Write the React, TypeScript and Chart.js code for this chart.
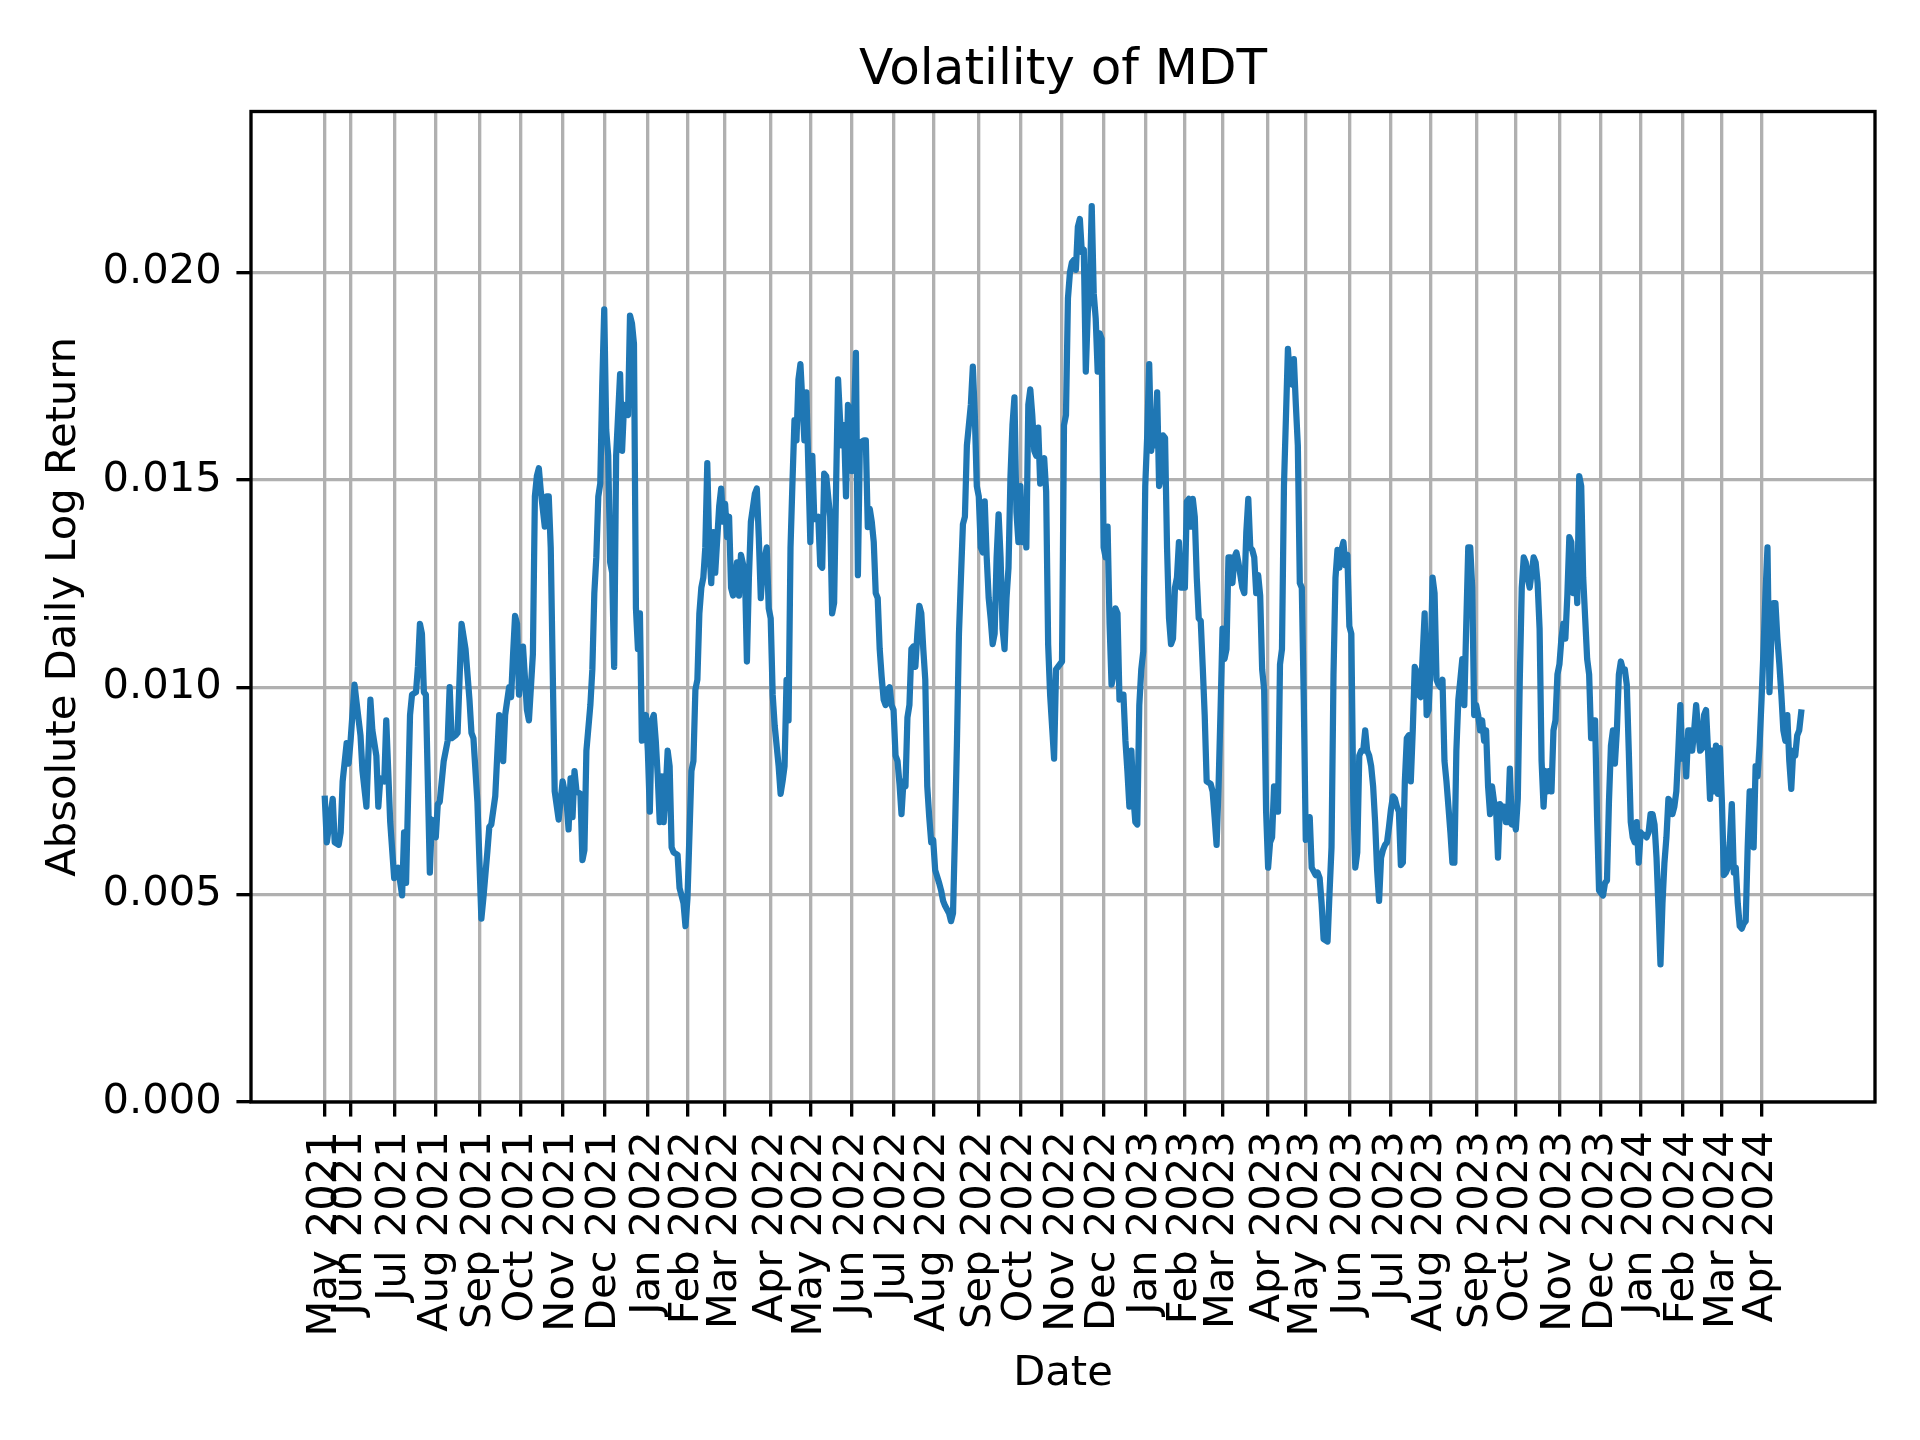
import { useEffect, useRef } from "react";
import { Chart, registerables } from "chart.js";

Chart.register(...registerables);

const TITLE = "Volatility of MDT";
const X_LABEL = "Date";
const Y_LABEL = "Absolute Daily Log Return";

// The x axis is the trading-day number of the series (0 = 2021-05-12, 745 = 2024-04-29).
// Each pair: [trading-day number, absolute daily log return (rolling)]
const obs2021: [number, number][] = [
  [0, 0.00731], [1, 0.00626], [4, 0.00731], [5, 0.00626], [7, 0.0062], [8, 0.0065], [9, 0.00773],
  [11, 0.00865], [12, 0.00816], [13, 0.00871], [15, 0.01006], [16, 0.00964], [18, 0.00884],
  [19, 0.00798], [21, 0.00712], [23, 0.0097], [24, 0.00896], [26, 0.00835], [27, 0.00712],
  [28, 0.0078], [30, 0.00773], [31, 0.0092], [33, 0.00675], [35, 0.0054], [37, 0.00565],
  [39, 0.00498], [40, 0.0065], [41, 0.00528], [43, 0.00933], [44, 0.00982], [46, 0.00988],
  [47, 0.0105], [48, 0.01153], [49, 0.01129], [50, 0.00988], [51, 0.00982], [53, 0.00553],
  [54, 0.00681], [56, 0.00638], [57, 0.00718], [58, 0.00724], [60, 0.00822], [62, 0.00871],
  [63, 0.01], [64, 0.00877], [66, 0.00884], [67, 0.0089], [69, 0.01153], [71, 0.01092],
  [73, 0.0097], [74, 0.0089], [75, 0.00877], [77, 0.00724], [79, 0.00442], [80, 0.00491],
  [82, 0.00602], [83, 0.00663], [84, 0.00669], [86, 0.00737], [87, 0.00835], [88, 0.00933],
  [90, 0.00822], [91, 0.00933], [93, 0.01], [94, 0.00976], [95, 0.0108], [96, 0.01172],
  [97, 0.01153], [98, 0.00982], [100, 0.01098], [102, 0.00945], [103, 0.0092], [105, 0.0108],
  [106, 0.0146], [107, 0.01509], [108, 0.01528], [109, 0.01472], [111, 0.01387], [112, 0.0146],
  [113, 0.0146], [114, 0.01337], [116, 0.00749], [118, 0.00681], [120, 0.00773], [122, 0.00724],
  [123, 0.00657], [124, 0.0078], [125, 0.00687], [126, 0.00798], [127, 0.00749], [129, 0.00743],
  [130, 0.00583], [131, 0.00607], [132, 0.00847], [134, 0.00957], [135, 0.01043], [136, 0.01227],
  [137, 0.01313], [138, 0.0146], [139, 0.01491], [140, 0.0173], [141, 0.01911], [142, 0.0162],
  [143, 0.01558], [144, 0.01301], [145, 0.01276], [146, 0.01049], [147, 0.01558], [149, 0.01755],
  [150, 0.0157], [151, 0.01681], [153, 0.01656], [154, 0.01896], [155, 0.01877], [156, 0.01828],
  [157, 0.0119], [158, 0.01092], [159, 0.01178], [160, 0.00871], [162, 0.00933],
];

const obs2022: [number, number][] = [
  [163, 0.00847], [164, 0.007], [165, 0.0092], [166, 0.00933], [167, 0.00871], [168, 0.00785],
  [169, 0.00675], [170, 0.00785], [171, 0.00675], [172, 0.00749], [173, 0.00847], [174, 0.0081],
  [175, 0.00614], [176, 0.00602], [178, 0.00596], [179, 0.00516], [180, 0.00498], [181, 0.00479],
  [182, 0.00424], [183, 0.00491], [185, 0.00798], [186, 0.00822], [187, 0.00994], [188, 0.01018],
  [189, 0.01178], [190, 0.0124], [191, 0.01264], [192, 0.01337], [193, 0.0154], [194, 0.01337],
  [195, 0.01251], [196, 0.01374], [197, 0.01276], [199, 0.01436], [200, 0.01479], [201, 0.01399],
  [202, 0.01442], [203, 0.01362], [204, 0.01411], [205, 0.0124], [206, 0.01221], [208, 0.01301],
  [209, 0.01221], [210, 0.01319], [212, 0.01276], [213, 0.01062], [214, 0.01264], [215, 0.01399],
  [217, 0.01466], [218, 0.01479], [219, 0.01362], [220, 0.01215], [221, 0.01288], [223, 0.01337],
  [224, 0.0119], [225, 0.01166], [226, 0.00982], [227, 0.00908], [229, 0.0081], [230, 0.00743],
  [231, 0.00773], [232, 0.0081], [233, 0.01018], [234, 0.0092], [235, 0.01337], [236, 0.01497],
  [237, 0.01644], [238, 0.01595], [239, 0.01742], [240, 0.01779], [242, 0.01595], [243, 0.01711],
  [245, 0.0135], [246, 0.01558], [247, 0.01405], [249, 0.01411], [250, 0.01294], [251, 0.01288],
  [252, 0.01515], [253, 0.01509], [255, 0.01411], [256, 0.01178], [257, 0.01203], [258, 0.01485],
  [259, 0.01742], [260, 0.01644], [261, 0.01583], [262, 0.01632], [263, 0.0146], [264, 0.01681],
  [265, 0.01656], [266, 0.01521], [267, 0.01644], [268, 0.01806], [269, 0.0127], [270, 0.01589],
  [272, 0.01595], [273, 0.01595], [274, 0.01386], [275, 0.0143], [276, 0.01399], [277, 0.0135],
  [278, 0.01227], [279, 0.01215], [280, 0.01092], [281, 0.01025], [282, 0.0097], [283, 0.00957],
  [284, 0.00994], [285, 0.01], [286, 0.00957], [287, 0.00945], [288, 0.00835], [289, 0.00822],
  [290, 0.00767], [291, 0.00694], [292, 0.00773], [293, 0.00761], [294, 0.00927], [295, 0.00957],
  [296, 0.01092], [297, 0.01098], [298, 0.01049], [299, 0.01129], [300, 0.01196], [301, 0.01178],
  [302, 0.01092], [303, 0.01018], [304, 0.00761], [305, 0.00687], [306, 0.00626], [307, 0.00632],
  [308, 0.00559], [310, 0.00528], [311, 0.0051], [312, 0.00485], [313, 0.00473], [315, 0.00455],
  [316, 0.00436], [317, 0.00455], [318, 0.0065], [319, 0.00871], [320, 0.01129], [321, 0.01264],
  [322, 0.01393], [323, 0.01411], [324, 0.01583], [325, 0.01632], [326, 0.01681], [327, 0.01773],
  [328, 0.01656], [329, 0.01485], [330, 0.0146], [331, 0.01337], [332, 0.01325], [333, 0.01448],
  [334, 0.01313], [335, 0.01215], [336, 0.01166], [337, 0.01104], [338, 0.01129], [339, 0.01313],
  [340, 0.01417], [341, 0.01313], [342, 0.01141], [343, 0.01092], [344, 0.01215], [345, 0.01288],
  [346, 0.01509], [347, 0.01632], [348, 0.01699], [349, 0.01423], [350, 0.0135], [351, 0.01485],
  [352, 0.0135], [353, 0.01411], [354, 0.01337], [355, 0.01681], [356, 0.01718], [357, 0.01656],
  [358, 0.0157], [359, 0.01558], [360, 0.01626], [361, 0.01491], [362, 0.01546], [363, 0.01552],
  [364, 0.01472], [365, 0.01104], [366, 0.00982], [368, 0.00828], [369, 0.01043], [372, 0.01062],
  [373, 0.01632], [374, 0.01656], [375, 0.01938], [376, 0.02], [377, 0.02024], [378, 0.0203],
  [379, 0.02006], [380, 0.0211], [381, 0.02129], [382, 0.02049], [383, 0.02055], [384, 0.01761],
  [385, 0.01902], [386, 0.01963], [387, 0.0216], [388, 0.0195], [389, 0.01889], [390, 0.01761],
  [391, 0.01853], [392, 0.0184], [393, 0.01337], [394, 0.01313], [395, 0.01387], [396, 0.01153],
  [397, 0.01006], [398, 0.01031], [399, 0.0119], [400, 0.01178], [401, 0.0097], [402, 0.00982],
  [403, 0.00982], [404, 0.00871], [405, 0.00798], [406, 0.00712], [407, 0.00847], [408, 0.00737],
  [409, 0.00675], [410, 0.00669], [411, 0.00957], [412, 0.01043], [413, 0.01086],
];

const obs2023: [number, number][] = [
  [414, 0.01485], [415, 0.01607], [416, 0.01779], [417, 0.0157], [418, 0.0162], [419, 0.01583],
  [420, 0.01711], [421, 0.01485], [422, 0.01509], [423, 0.01607], [424, 0.01601], [425, 0.01337],
  [426, 0.01166], [427, 0.01104], [428, 0.01117], [429, 0.0124], [430, 0.01264], [431, 0.0135],
  [432, 0.0124], [433, 0.0124], [434, 0.0124], [435, 0.01448], [436, 0.01454], [437, 0.01387],
  [438, 0.01454], [439, 0.01411], [440, 0.01264], [441, 0.01166], [442, 0.0116], [443, 0.0105],
  [444, 0.00933], [445, 0.00773], [447, 0.00767], [448, 0.00749], [449, 0.00687], [450, 0.0062],
  [451, 0.00761], [452, 0.00945], [453, 0.01141], [454, 0.01068], [455, 0.01092], [456, 0.01313],
  [457, 0.01313], [458, 0.01251], [459, 0.01313], [460, 0.01325], [461, 0.01301], [463, 0.0124],
  [464, 0.01227], [465, 0.01374], [466, 0.01454], [467, 0.01337], [468, 0.01331], [469, 0.01313],
  [470, 0.01227], [471, 0.0127], [472, 0.01221], [473, 0.01043], [474, 0.00994], [475, 0.007],
  [476, 0.00565], [477, 0.00626], [478, 0.00638], [479, 0.00761], [480, 0.00749], [481, 0.007],
  [482, 0.01055], [483, 0.01092], [484, 0.01485], [486, 0.01816], [487, 0.01742], [488, 0.0173],
  [489, 0.01791], [490, 0.01681], [491, 0.01583], [492, 0.01251], [493, 0.0124], [494, 0.0097],
  [495, 0.00632], [496, 0.00663], [497, 0.00687], [498, 0.00565], [500, 0.00547], [501, 0.00553],
  [502, 0.0054], [503, 0.00479], [504, 0.00393], [506, 0.00387], [507, 0.00504], [508, 0.00614],
  [509, 0.01031], [510, 0.01264], [511, 0.01331], [512, 0.01288], [513, 0.01331], [514, 0.0135],
  [515, 0.01294], [516, 0.01319], [517, 0.01147], [518, 0.01129], [519, 0.00724], [520, 0.00565],
  [521, 0.00602], [522, 0.00835], [523, 0.00847], [524, 0.00847], [525, 0.00896], [526, 0.00847],
  [527, 0.00835], [528, 0.0081], [529, 0.00761], [530, 0.00675], [531, 0.00559], [532, 0.00485],
  [533, 0.00589], [534, 0.00608], [535, 0.0062], [536, 0.00626], [537, 0.00663], [538, 0.00706],
  [539, 0.00737], [540, 0.00731], [541, 0.00712], [542, 0.007], [543, 0.00571], [544, 0.00577],
  [545, 0.00773], [546, 0.00877], [547, 0.00884], [548, 0.00773], [549, 0.00896], [550, 0.01049],
  [551, 0.01037], [552, 0.00982], [553, 0.00976], [555, 0.01178], [556, 0.00933], [557, 0.00945],
  [558, 0.01055], [559, 0.01264], [560, 0.01227], [561, 0.01018], [562, 0.01006], [563, 0.01],
  [564, 0.01018], [565, 0.00822], [566, 0.00773], [567, 0.00712], [568, 0.0065], [569, 0.00577],
  [570, 0.00577], [571, 0.00847], [572, 0.0097], [573, 0.01018], [574, 0.01068], [575, 0.00957],
  [576, 0.01153], [577, 0.01337], [578, 0.01337], [579, 0.0124], [580, 0.00933], [581, 0.00957],
  [582, 0.00933], [583, 0.00896], [584, 0.0092], [585, 0.00871], [586, 0.00896], [587, 0.00761],
  [588, 0.00694], [589, 0.00761], [590, 0.00724], [591, 0.00712], [592, 0.00589], [593, 0.00718],
  [594, 0.00712], [595, 0.00712], [596, 0.00675], [597, 0.00675], [598, 0.00804], [599, 0.00669],
  [600, 0.00687], [601, 0.00657], [602, 0.00731], [603, 0.01018], [604, 0.0124], [605, 0.01313],
  [606, 0.01301], [607, 0.01264], [608, 0.0124], [610, 0.01313], [611, 0.01301], [612, 0.01251],
  [613, 0.01141], [614, 0.00822], [615, 0.00712], [616, 0.00798], [617, 0.00749], [618, 0.00798],
  [619, 0.00749], [620, 0.00896], [621, 0.0092], [622, 0.01031], [623, 0.01055], [624, 0.01117],
  [625, 0.01153], [626, 0.01117], [627, 0.01221], [628, 0.01362], [629, 0.0135], [630, 0.01227],
  [631, 0.01313], [632, 0.01203], [633, 0.01509], [634, 0.01485], [635, 0.01264], [636, 0.01166],
  [637, 0.01068], [638, 0.01031], [639, 0.00877], [640, 0.0092], [641, 0.0092], [642, 0.00687],
  [643, 0.0051], [644, 0.00504], [645, 0.00498], [646, 0.00528], [647, 0.00534], [648, 0.00724],
  [649, 0.00859], [650, 0.00896], [651, 0.00816], [652, 0.00896], [653, 0.01031], [654, 0.01062],
  [655, 0.01043], [656, 0.01043], [657, 0.01006], [658, 0.00847], [659, 0.00675], [660, 0.00638],
  [661, 0.00626], [662, 0.00675], [663, 0.00577],
];

const obs2024: [number, number][] = [
  [664, 0.0065], [665, 0.00644], [666, 0.00644], [667, 0.00638], [668, 0.0065], [669, 0.00694],
  [670, 0.00694], [671, 0.00669], [672, 0.00589], [673, 0.00467], [674, 0.00332], [675, 0.00479],
  [676, 0.00577], [677, 0.00638], [678, 0.00731], [679, 0.00724], [680, 0.00694], [681, 0.00712],
  [682, 0.00749], [683, 0.00847], [684, 0.00957], [685, 0.00828], [686, 0.00871], [687, 0.00785],
  [688, 0.00896], [689, 0.00896], [690, 0.00847], [691, 0.00896], [692, 0.00957], [693, 0.00896],
  [694, 0.00847], [695, 0.00853], [696, 0.00933], [697, 0.00945], [698, 0.00847], [699, 0.00731],
  [700, 0.00847], [701, 0.00749], [702, 0.00859], [703, 0.00743], [704, 0.00853], [705, 0.00724],
  [706, 0.00547], [707, 0.00553], [708, 0.00565], [709, 0.00626], [710, 0.00718], [711, 0.00553],
  [712, 0.00565], [713, 0.00479], [714, 0.00424], [715, 0.00418], [716, 0.0043], [717, 0.00436],
  [718, 0.00614], [719, 0.00749], [720, 0.00749], [721, 0.00614], [722, 0.0081], [723, 0.00785],
  [724, 0.00859], [725, 0.0097], [726, 0.01092], [727, 0.01227], [728, 0.01337], [729, 0.00988],
  [730, 0.01129], [731, 0.01203], [732, 0.01203], [733, 0.01117], [734, 0.01055], [735, 0.00982],
  [736, 0.00896], [737, 0.00871], [738, 0.00933], [739, 0.00822], [740, 0.00755], [741, 0.00847],
  [742, 0.00835], [743, 0.00884], [744, 0.00896], [745, 0.00939],
];

// first trading day of each month (series start for the first one)
const tickDays = [
  0, 13, 35, 56, 78, 99, 120, 141, 163, 183, 202, 225, 245, 266, 287, 307, 330, 351,
  372, 393, 414, 434, 453, 476, 495, 517, 538, 558, 581, 601, 623, 644, 664, 685, 705, 725,
];
const tickLabels = [
  "May 2021", "Jun 2021", "Jul 2021", "Aug 2021", "Sep 2021", "Oct 2021", "Nov 2021",
  "Dec 2021", "Jan 2022", "Feb 2022", "Mar 2022", "Apr 2022", "May 2022", "Jun 2022",
  "Jul 2022", "Aug 2022", "Sep 2022", "Oct 2022", "Nov 2022", "Dec 2022", "Jan 2023",
  "Feb 2023", "Mar 2023", "Apr 2023", "May 2023", "Jun 2023", "Jul 2023", "Aug 2023",
  "Sep 2023", "Oct 2023", "Nov 2023", "Dec 2023", "Jan 2024", "Feb 2024", "Mar 2024",
  "Apr 2024",
];
const yTicks = [0, 0.005, 0.01, 0.015, 0.02];
const Y_MAX = 0.02388;

const FONT = "'DejaVu Sans', 'Liberation Sans', sans-serif";
const PT = 300 / 72; // matplotlib points at 300 dpi

export default function App() {
  const ref = useRef<HTMLCanvasElement | null>(null);

  useEffect(() => {
    if (!ref.current) return;
    const all = [...obs2021, ...obs2022, ...obs2023, ...obs2024];
    const points = all.map(([d, v]) => ({ x: d, y: v }));
    const first = points[0].x;
    const last = points[points.length - 1].x;
    const margin = (last - first) * 0.05;

    const frame = {
      id: "frame",
      afterDatasetsDraw(chart: any) {
        const { ctx, chartArea: a } = chart;
        ctx.save();
        ctx.strokeStyle = "#000";
        ctx.lineWidth = 0.8 * PT;
        ctx.strokeRect(a.left, a.top, a.right - a.left, a.bottom - a.top);
        ctx.restore();
      },
    };

    const gridOpts = {
      color: "#b0b0b0",
      lineWidth: 0.8 * PT,
      tickColor: "#000",
      tickWidth: 0.8 * PT,
      tickLength: 3.5 * PT,
    };

    const chart = new Chart(ref.current, {
      type: "line",
      data: {
        datasets: [
          {
            data: points,
            borderColor: "#1f77b4",
            borderWidth: 1.5 * PT,
            pointRadius: 0,
            tension: 0,
            fill: false,
            borderJoinStyle: "round",
            borderCapStyle: "square",
          },
        ],
      },
      options: {
        animation: false,
        responsive: false,
        devicePixelRatio: 1,
        layout: { padding: { top: 0, left: 0, right: 45, bottom: 0 } },
        plugins: {
          legend: { display: false },
          tooltip: { enabled: false },
          title: {
            display: true,
            fullSize: false,
            text: TITLE,
            color: "#000",
            font: { family: FONT, size: 12 * PT, weight: "normal", lineHeight: 1.2 },
            padding: { top: 41, bottom: 10.5 },
          },
        },
        scales: {
          x: {
            type: "linear",
            min: first - margin,
            max: last + margin,
            afterBuildTicks: (s: any) => {
              s.ticks = tickDays.map((v) => ({ value: v }));
            },
            afterFit: (s: any) => {
              s.height = 338;
            },
            ticks: {
              autoSkip: false,
              maxRotation: 90,
              minRotation: 90,
              padding: 3.5 * PT,
              color: "#000",
              font: { family: FONT, size: 10 * PT, lineHeight: 1.2 },
              callback: (_v: any, i: number) => tickLabels[i],
            },
            grid: gridOpts,
            border: { display: false },
            title: {
              display: true,
              text: X_LABEL,
              color: "#000",
              font: { family: FONT, size: 10 * PT, lineHeight: 1.2 },
              padding: { top: 0, bottom: 41.3 },
            },
          },
          y: {
            type: "linear",
            min: 0,
            max: Y_MAX,
            afterBuildTicks: (s: any) => {
              s.ticks = yTicks.map((v) => ({ value: v }));
            },
            afterFit: (s: any) => {
              s.width = 251;
            },
            ticks: {
              padding: 3.5 * PT,
              color: "#000",
              font: { family: FONT, size: 10 * PT, lineHeight: 1.2 },
              callback: (v: any) => Number(v).toFixed(3),
            },
            grid: gridOpts,
            border: { display: false },
            title: {
              display: true,
              text: Y_LABEL,
              color: "#000",
              font: { family: FONT, size: 10 * PT, lineHeight: 1.2 },
              padding: { top: 39, bottom: 0 },
            },
          },
        },
      } as any,
      plugins: [frame],
    });

    return () => chart.destroy();
  }, []);

  return (
    <div style={{ position: "absolute", left: 0, top: 0, width: 1920, height: 1440, background: "#fff" }}>
      <canvas ref={ref} width={1920} height={1440} style={{ display: "block", width: 1920, height: 1440 }} />
    </div>
  );
}
